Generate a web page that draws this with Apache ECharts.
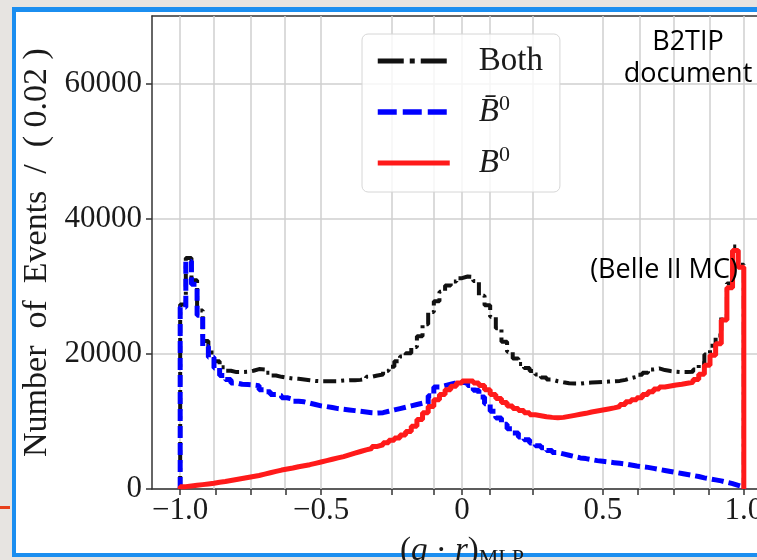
<!DOCTYPE html>
<html>
<head>
<meta charset="utf-8">
<script src="https://cdn.jsdelivr.net/npm/echarts@6/dist/echarts.min.js"></script>
<style>
  html, body { margin: 0; padding: 0; width: 757px; height: 560px; overflow: hidden; background: #e7e4e1; }
  #frame { position: absolute; left: 12px; top: 7px; width: 800px; height: 541px; background: #fff;
           border: 4px solid #1b8ef0; border-top-width: 5px; }
  #redmark { position: absolute; left: 0; top: 506px; width: 10px; height: 3px; background: #e8401c; }
  #chart { position: absolute; left: 0; top: 0; width: 757px; height: 560px; }
</style>
</head>
<body>
<div id="frame"></div>
<div id="redmark"></div>
<div id="chart"></div>
<script>
// histogram binning: 100 bins of 0.02 between -1 and 1
const binStart = -1
const binWidth = 0.02

// counts per bin
const bothCounts = [
  27300, 34200, 30900, 26400, 21900, 20200, 18900, 18000, 17500, 17300,
  17300, 17350, 17500, 17750, 17700, 17200, 16800, 16600, 16450, 16350,
  16300, 16200, 16100, 16000, 15950, 15950, 15950, 15950, 16050, 16100,
  16100, 16150, 16300, 16600, 16800, 16950, 17500, 18100, 18900, 19600,
  20100, 21000, 22600, 24400, 26200, 27800, 29200, 30100, 30700, 31200,
  31450, 31400, 30800, 28600, 27200, 25500, 23800, 21800, 20300, 19300,
  18500, 17900, 17450, 16950, 16500, 16200, 15950, 15800, 15650, 15600,
  15600, 15700, 15750, 15800, 15850, 15900, 15950, 16000, 16150, 16400,
  16600, 16900, 17200, 17700, 17850, 17600, 17450, 17350, 17300, 17300,
  17350, 17700, 18600, 19900, 21200, 22700, 25600, 30400, 35900, 33200
]
const b0barCounts = [
  26900, 33700, 30300, 25700, 21100, 19500, 17900, 16800, 16200, 15700,
  15500, 15450, 15400, 15300, 14700, 14400, 14000, 13800, 13500, 13300,
  13000, 12900, 12700, 12500, 12300, 12200, 12050, 11900, 11800, 11700,
  11600, 11500, 11400, 11300, 11250, 11300, 11500, 11700, 11900, 12100,
  12300, 12500, 12700, 12600, 13800, 15100, 15300, 15500, 15700, 15800,
  15700, 15300, 14600, 13600, 12600, 11500, 10500, 9600, 8900, 8300,
  7700, 7300, 6800, 6400, 6100, 5700, 5400, 5200, 5000, 4800,
  4600, 4500, 4350, 4200, 4100, 4000, 3900, 3800, 3700, 3550,
  3400, 3300, 3200, 3050, 2900, 2750, 2600, 2450, 2300, 2150,
  2000, 1850, 1650, 1500, 1350, 1200, 1000, 800, 550, 300
]
const b0Counts = [
  350, 450, 550, 650, 750, 850, 1000, 1100, 1250, 1400,
  1550, 1700, 1850, 2000, 2200, 2400, 2600, 2800, 2950, 3100,
  3300, 3450, 3600, 3800, 4000, 4200, 4400, 4600, 4800, 5050,
  5300, 5550, 5800, 6000, 6300, 6550, 6850, 7200, 7550, 8000,
  8500, 9300, 10300, 11300, 12200, 13200, 14000, 14700, 15200, 15700,
  16000, 16000, 15700, 15300, 14700, 14000, 13400, 12800, 12300, 11900,
  11600, 11300, 11000, 10850, 10700, 10600, 10550, 10600, 10750, 10900,
  11050, 11200, 11400, 11550, 11700, 11850, 12000, 12200, 12500, 12900,
  13200, 13500, 14000, 14400, 14800, 15100, 15250, 15400, 15500, 15650,
  15800, 16200, 17000, 18300, 19800, 21500, 25000, 29800, 35300, 32800
]

const seriesNames = ['Both', 'B\u0304\u2070', 'B\u2070']
const xGridValues = [-1, -0.875, -0.75, -0.625, -0.5, -0.25, -0.1, 0, 0.1, 0.25, 0.5, 0.625, 0.75, 0.875, 1]
const xLabelValues = [-1, -0.5, 0, 0.5, 1]
const yLabelValues = [0, 20000, 40000, 60000]

const serif = "'Liberation Serif', 'DejaVu Serif', serif"
const sans = "'Open Sans', 'Noto Sans', sans-serif"
const textColor = '#1a1a1a'
const axisColor = '#333'

// step outline like matplotlib histtype='step'
function stepPoints(counts) {
  const pts = [[binStart, 0]]
  counts.forEach((c, i) => pts.push([binStart + (i + 1) * binWidth, c]))
  pts.push([binStart + counts.length * binWidth, 0])
  return pts
}

function xFmt(v) {
  if (v === 0) return '0'
  return (v < 0 ? '\u2212' : '') + Math.abs(v).toFixed(1)
}

const chart = echarts.init(document.getElementById('chart'), null, { renderer: 'canvas' })

const hidden = { opacity: 0 }

const option = {
  animation: false,
  backgroundColor: 'transparent',
  grid: { left: 152, top: 16, width: 620, height: 473, outerBoundsMode: 'none' },
  legend: {
    orient: 'vertical',
    left: 362,
    top: 34,
    itemWidth: 72,
    itemHeight: 14,
    itemGap: 14,
    padding: [9, 17, 11, 13],
    backgroundColor: 'rgba(255,255,255,0.8)',
    borderColor: '#d6d6d6',
    borderWidth: 1,
    borderRadius: 6,
    selectedMode: false,
    itemStyle: hidden,
    textStyle: {
      color: textColor,
      fontFamily: serif,
      fontSize: 32,
      lineHeight: 36,
      padding: [0, 0, 0, 24],
      rich: {
        n: { fontFamily: serif, fontSize: 33, color: textColor },
        i: { fontFamily: serif, fontSize: 33, fontStyle: 'italic', color: textColor },
        s: { fontFamily: serif, fontSize: 22, color: textColor, padding: [0, 0, 16, 0] }
      }
    },
    formatter: function (name) {
      if (name === seriesNames[0]) return '{n|Both}'
      if (name === seriesNames[1]) return '{i|B\u0304}{s|0}'
      return '{i|B}{s|0}'
    },
    data: [
      { name: seriesNames[0], itemStyle: hidden, lineStyle: { width: 5, color: '#111', type: [26, 6, 5, 6] } },
      { name: seriesNames[1], itemStyle: hidden, lineStyle: { width: 5.5, color: '#0000ff', type: [19, 6] } },
      { name: seriesNames[2], itemStyle: hidden, lineStyle: { width: 5, color: '#ff1a1a', type: 'solid' } }
    ]
  },
  xAxis: [
    {
      type: 'value',
      min: -1.1,
      max: 1.1,
      axisLine: { show: true, onZero: false, lineStyle: { color: axisColor, width: 1.5 } },
      axisTick: { show: true, length: 6, customValues: xGridValues, lineStyle: { color: axisColor, width: 1.5 } },
      axisLabel: {
        customValues: xLabelValues,
        formatter: xFmt,
        fontFamily: serif,
        fontSize: 31,
        color: textColor,
        margin: 6
      },
      splitLine: { show: false },
      name: '{n|(}{i|q}{n| \u00b7 }{i|r}{n|)}{sub|MLP}',
      nameLocation: 'middle',
      nameGap: 44,
      nameTextStyle: {
        rich: {
          n: { fontFamily: serif, fontSize: 33, color: textColor },
          i: { fontFamily: serif, fontSize: 33, fontStyle: 'italic', color: textColor },
          sub: { fontFamily: serif, fontSize: 22, color: textColor, padding: [14, 0, 0, 0] }
        }
      }
    },
    {
      type: 'value',
      position: 'top',
      min: -1.1,
      max: 1.1,
      axisLine: { show: true, onZero: false, lineStyle: { color: axisColor, width: 1.5 } },
      axisTick: { show: false },
      axisLabel: { show: false },
      splitLine: { show: false }
    }
  ],
  yAxis: {
    type: 'value',
    min: 0,
    max: 70000,
    interval: 20000,
    axisLine: { show: true, onZero: false, lineStyle: { color: axisColor, width: 1.5 } },
    axisTick: { show: true, length: 6, customValues: yLabelValues, lineStyle: { color: axisColor, width: 1.5 } },
    axisLabel: {
      customValues: yLabelValues,
      formatter: v => String(v),
      fontFamily: serif,
      fontSize: 31,
      color: textColor,
      margin: 10
    },
    splitLine: { show: true, lineStyle: { color: '#cfcfcf', width: 1.5 } },
    name: 'Number  of  Events  /  ( 0.02 )',
    nameLocation: 'middle',
    nameGap: 96,
    nameTextStyle: { fontFamily: serif, fontSize: 34, color: textColor }
  },
  graphic: [
    {
      type: 'text', x: 688, y: 58, z: 100,
      style: { text: 'B2TIP\ndocument', fontFamily: sans, fontSize: 27, lineHeight: 32,
               fill: '#000', align: 'center', verticalAlign: 'middle' }
    },
    {
      type: 'text', x: 664, y: 270, z: 100,
      style: { text: '(Belle II MC)', fontFamily: sans, fontSize: 27,
               fill: '#000', align: 'center', verticalAlign: 'middle' }
    }
  ],
  series: [
    {
      // vertical grid lines of the original figure
      type: 'line',
      data: [],
      silent: true,
      z: 1,
      markLine: {
        silent: true,
        z: 1,
        symbol: 'none',
        animation: false,
        label: { show: false },
        lineStyle: { color: '#cfcfcf', width: 1.5, type: 'solid' },
        data: xGridValues.map(v => ({ xAxis: v }))
      }
    },
    {
      name: seriesNames[0],
      type: 'line',
      step: 'start',
      symbol: 'none',
      z: 3,
      data: stepPoints(bothCounts),
      lineStyle: { color: '#111', width: 4, type: [13, 5, 3, 5] }
    },
    {
      name: seriesNames[1],
      type: 'line',
      step: 'start',
      symbol: 'none',
      z: 4,
      data: stepPoints(b0barCounts),
      lineStyle: { color: '#0000ff', width: 5, type: [12, 5] }
    },
    {
      name: seriesNames[2],
      type: 'line',
      step: 'start',
      symbol: 'none',
      z: 5,
      data: stepPoints(b0Counts),
      lineStyle: { color: '#ff1a1a', width: 5, type: 'solid' }
    }
  ]
}

chart.setOption(option)
window.addEventListener('resize', () => chart.resize())
</script>
</body>
</html>
